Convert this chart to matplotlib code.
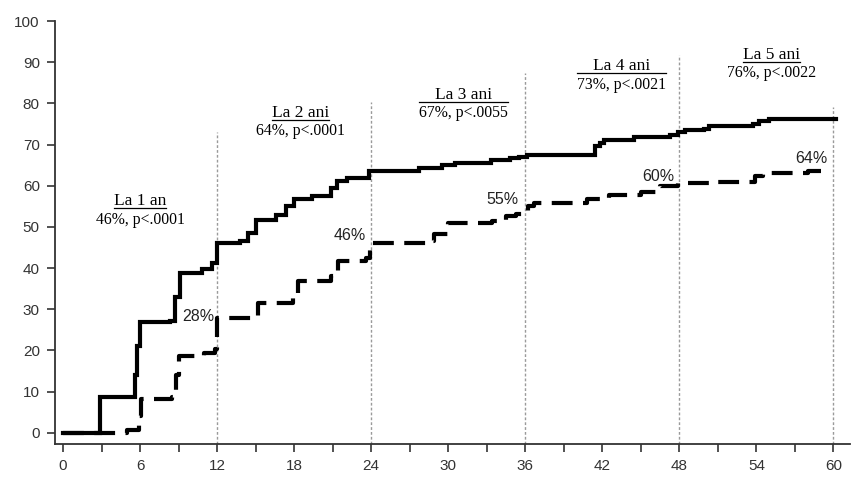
import matplotlib
matplotlib.use("Agg")
import matplotlib.pyplot as plt

# month values (steps) for the two cumulative curves
solid_t = [0, 2.9, 5.6, 5.8, 6.0, 8.3, 8.7, 9.1, 10.8, 11.6, 12.0, 13.8, 14.4, 15.0,
           16.6, 17.4, 18.0, 19.4, 20.9, 21.3, 22.1, 23.8, 27.7, 29.5, 30.5, 33.3,
           34.8, 35.5, 36.1, 41.4, 41.8, 42.1, 44.5, 47.3, 47.9, 48.4, 49.9, 50.3,
           53.7, 54.2, 55.0, 60.2]
solid_v = [0, 8.8, 14, 21, 26.9, 27.2, 33, 38.9, 39.7, 41.3, 46.2, 46.6, 48.6, 51.8,
           53.0, 55, 56.7, 57.5, 59.5, 61.1, 61.9, 63.5, 64.3, 65, 65.5, 66.3,
           66.8, 67.1, 67.5, 69.6, 70.5, 71.2, 71.8, 72.3, 73.0, 73.5, 73.8, 74.4,
           75, 75.7, 76.2, 76.2]

dash_t = [0, 5.0, 5.9, 6.1, 8.5, 8.8, 9.0, 11.0, 11.8, 12.0, 14.8, 15.2, 17.9, 18.3,
          20.9, 21.4, 23.6, 23.9, 24.1, 28.5, 28.9, 30.0, 33.4, 34.5, 35.3, 36.2,
          36.7, 40.8, 42.5, 45.0, 46.5, 47.9, 50.8, 53.9, 54.5, 58.0, 59.0]
dash_v = [0, 0.8, 4, 8.2, 8.6, 14, 18.7, 19.5, 20.3, 27.8, 28.3, 31.6, 33.7, 36.9,
          38.1, 41.7, 42.5, 44.5, 46.2, 46.6, 48.2, 51.0, 51.4, 52.6, 53.2, 55.0,
          55.8, 56.8, 57.7, 58.4, 59.9, 60.7, 61.0, 62.3, 63.1, 63.5, 63.5]

# yearly markers
year_x = [12, 24, 36, 48, 60]
year_top = [73, 80.4, 87.4, 91.8, 79]
year_titles = ["La 1 an", "La 2 ani", "La 3 ani", "La 4 ani", "La 5 ani"]
year_stats = ["46%, p<.0001", "64%, p<.0001", "67%, p<.0055", "73%, p<.0021", "76%, p<.0022"]
label_x = [6.0, 18.5, 31.2, 43.5, 55.2]
title_y = [56.2, 77.7, 82, 89, 91.8]
stat_y = [51.8, 73.2, 77.7, 84.5, 87.3]
wide_underline = [False, False, True, True, False]

# percentages on dashed curve
pct_text = ["28%", "46%", "55%", "60%", "64%"]
pct_x = [10.5, 22.35, 34.25, 46.35, 58.3]
pct_y = [28.3, 47.8, 56.7, 62.3, 66.7]

fig = plt.figure(figsize=(8.64, 4.83), dpi=100)
ax = fig.add_axes([0.0637, 0.0808, 0.9203, 0.8757])

ymin = -2.7
ax.vlines(year_x, ymin, year_top, colors="#9a9a9a", linestyles=(0, (2, 1.5)), lw=1)

ax.plot(solid_t, solid_v, drawstyle="steps-post", color="black", lw=3,
        solid_joinstyle="miter")
ax.plot(dash_t, dash_v, drawstyle="steps-post", color="black", lw=3,
        dashes=(5, 2.5))

for t, x, y in zip(pct_text, pct_x, pct_y):
    ax.text(x, y, t, ha="center", va="center", fontsize=11.5,
            family="Liberation Sans", color="#222222")

titles = []
stats = []
for i in range(len(year_titles)):
    t1 = ax.text(label_x[i], title_y[i], year_titles[i], ha="center", va="center",
                 fontsize=12.5, family="Liberation Serif")
    t2 = ax.text(label_x[i], stat_y[i], year_stats[i], ha="center", va="center",
                 fontsize=11.3, family="Liberation Serif")
    titles.append(t1)
    stats.append(t2)

ax.set_xlim(-0.62, 61.3)
ax.set_ylim(ymin, 100)
ax.set_xticks(range(0, 61, 6))
ax.set_xticks(range(3, 61, 6), minor=True)
ax.set_yticks(range(0, 101, 10))
for s in ["top", "right"]:
    ax.spines[s].set_visible(False)
for s in ["left", "bottom"]:
    ax.spines[s].set_linewidth(1.3)
    ax.spines[s].set_color("#333333")
ax.tick_params(which="both", direction="out", length=6, width=1.2,
               colors="#333333")
ax.tick_params(axis="both", which="major", labelsize=11, pad=5)
for lab in ax.get_xticklabels() + ax.get_yticklabels():
    lab.set_family("Liberation Sans")

# underline titles
fig.canvas.draw()
r = fig.canvas.get_renderer()
inv = ax.transData.inverted()
for i in range(len(titles)):
    bb = titles[i].get_window_extent(r)
    wb = stats[i].get_window_extent(r) if wide_underline[i] else bb
    yline = bb.y0 + 1
    (x0, y0) = inv.transform((wb.x0, yline))
    (x1, _) = inv.transform((wb.x1, yline))
    ax.plot([x0, x1], [y0, y0], color="black", lw=0.9)

fig.savefig("out.png", dpi=100)
